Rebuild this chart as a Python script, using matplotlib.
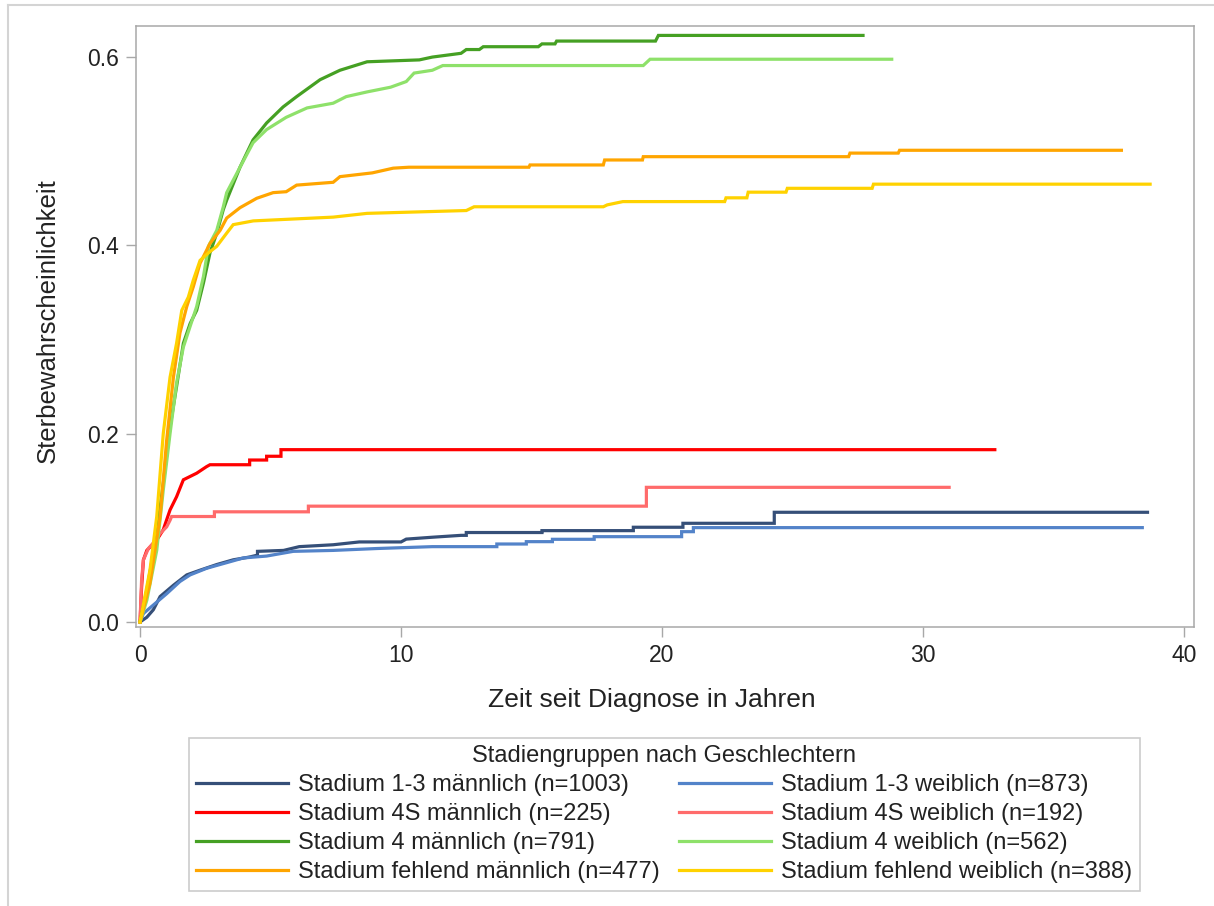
import matplotlib
matplotlib.use("Agg")
import matplotlib.pyplot as plt
from matplotlib.lines import Line2D

plt.rcParams['font.family'] = ['Liberation Sans', 'DejaVu Sans']

# Kumulative Sterbewahrscheinlichkeit, Eckpunkte der Kurven (Jahre, Wahrscheinlichkeit)
x_13m = [0, 0.26, 0.51, 0.77, 1.28, 1.79, 2.3, 2.94, 3.57, 4.2, 4.5, 4.5, 5.5, 6.1, 7.4, 8.4, 10.0, 10.2,
         11.2, 12.3, 12.5, 12.5, 15.4, 15.4, 18.9, 18.9, 20.8, 20.8, 24.3, 24.3, 38.6]
y_13m = [0, 0.005, 0.013, 0.027, 0.039, 0.050, 0.055, 0.061, 0.066, 0.069, 0.071, 0.075, 0.076, 0.080, 0.082,
         0.085, 0.085, 0.088, 0.090, 0.092, 0.092, 0.095, 0.095, 0.097, 0.097, 0.1006, 0.1006, 0.1048, 0.1048,
         0.1165, 0.1165]

x_13w = [0, 0.13, 0.51, 1.02, 1.53, 1.92, 2.55, 3.32, 3.96, 4.85, 5.87, 7.4, 9.07, 11.2, 12.4, 13.67, 13.67,
         14.8, 14.8, 15.8, 15.8, 17.4, 17.4, 20.75, 20.75, 21.2, 21.2, 38.4]
y_13w = [0, 0.009, 0.018, 0.030, 0.043, 0.050, 0.057, 0.063, 0.068, 0.070, 0.075, 0.076, 0.078, 0.080, 0.080,
         0.080, 0.0828, 0.0828, 0.0853, 0.0853, 0.0878, 0.0878, 0.0906, 0.0906, 0.0959, 0.0959, 0.1002, 0.1002]

x_4sm = [0, 0.06, 0.13, 0.26, 0.64, 0.89, 1.15, 1.4, 1.66, 2.17, 2.55, 2.68, 4.2, 4.2, 4.85, 4.85, 5.4, 5.4, 32.75]
y_4sm = [0, 0.037, 0.066, 0.076, 0.087, 0.098, 0.119, 0.133, 0.151, 0.158, 0.165, 0.167, 0.167, 0.172, 0.172,
         0.176, 0.176, 0.183, 0.183]

x_4sw = [0, 0.06, 0.13, 0.32, 0.51, 0.77, 1.02, 1.15, 1.21, 2.85, 2.85, 6.45, 6.45, 19.4, 19.4, 31.0]
y_4sw = [0, 0.045, 0.066, 0.078, 0.084, 0.094, 0.101, 0.108, 0.112, 0.112, 0.117, 0.117, 0.123, 0.123, 0.143, 0.143]

x_4m = [0, 0.26, 0.64, 0.89, 1.15, 1.4, 1.66, 1.92, 2.17, 2.43, 2.68, 2.94, 3.19, 3.32, 3.83, 4.33, 4.85, 5.48,
        6.0, 6.9, 7.66, 8.7, 10.7, 11.2, 12.3, 12.5, 13.0, 13.15, 15.26, 15.4, 15.9, 15.96, 19.75, 19.86, 27.7]
y_4m = [0, 0.034, 0.094, 0.147, 0.207, 0.25, 0.296, 0.317, 0.331, 0.36, 0.392, 0.413, 0.438, 0.448, 0.483,
        0.512, 0.530, 0.547, 0.558, 0.576, 0.586, 0.595, 0.597, 0.600, 0.604, 0.608, 0.608, 0.611, 0.611, 0.614,
        0.614, 0.617, 0.617, 0.623, 0.623]

x_4w = [0, 0.26, 0.64, 0.89, 1.15, 1.4, 1.66, 1.92, 2.17, 2.43, 2.62, 2.94, 3.19, 3.32, 3.83, 4.33, 4.85, 5.6,
        6.4, 7.4, 7.9, 8.7, 9.6, 10.2, 10.5, 11.2, 11.6, 19.28, 19.54, 28.8]
y_4w = [0, 0.023, 0.076, 0.14, 0.2, 0.254, 0.292, 0.314, 0.335, 0.367, 0.399, 0.416, 0.441, 0.456, 0.483,
        0.509, 0.523, 0.536, 0.546, 0.551, 0.558, 0.563, 0.568, 0.574, 0.583, 0.586, 0.591, 0.591, 0.5977, 0.5977]

x_fm = [0, 0.38, 0.77, 1.02, 1.28, 1.53, 1.79, 2.04, 2.3, 2.68, 3.07, 3.32, 3.83, 4.47, 5.1, 5.6, 6.0, 7.4,
        7.66, 8.9, 9.7, 10.3, 14.9, 14.94, 17.75, 17.8, 19.25, 19.28, 27.15, 27.2, 29.05, 29.1, 37.6]
y_fm = [0, 0.041, 0.112, 0.193, 0.26, 0.307, 0.335, 0.356, 0.381, 0.402, 0.416, 0.429, 0.44, 0.45, 0.456,
        0.457, 0.464, 0.467, 0.473, 0.477, 0.482, 0.483, 0.483, 0.4854, 0.4854, 0.4907, 0.4907, 0.4942, 0.4942,
        0.498, 0.498, 0.501, 0.501]

x_fw = [0, 0.38, 0.64, 0.89, 1.15, 1.4, 1.6, 1.85, 2.04, 2.3, 2.62, 2.94, 3.32, 3.57, 4.34, 7.4, 8.7, 12.5,
        12.8, 17.75, 17.9, 18.5, 22.4, 22.45, 23.25, 23.3, 24.75, 24.8, 28.05, 28.1, 38.7]
y_fw = [0, 0.055, 0.112, 0.2, 0.26, 0.296, 0.331, 0.345, 0.363, 0.384, 0.392, 0.399, 0.413, 0.422, 0.426,
        0.43, 0.434, 0.437, 0.441, 0.441, 0.443, 0.4465, 0.4465, 0.4505, 0.4505, 0.4565, 0.4565, 0.4606, 0.4606,
        0.465, 0.465]

labels = ["Stadium 1-3 männlich (n=1003)", "Stadium 1-3 weiblich (n=873)",
          "Stadium 4S männlich (n=225)", "Stadium 4S weiblich (n=192)",
          "Stadium 4 männlich (n=791)", "Stadium 4 weiblich (n=562)",
          "Stadium fehlend männlich (n=477)", "Stadium fehlend weiblich (n=388)"]
colors = ['#354f78', '#5383c9', '#ff0000', '#ff6b6b', '#45a023', '#8ee16a', '#ffa500', '#ffd200']
xs = [x_13m, x_13w, x_4sm, x_4sw, x_4m, x_4w, x_fm, x_fw]
ys = [y_13m, y_13w, y_4sm, y_4sw, y_4m, y_4w, y_fm, y_fw]

fig = plt.figure(figsize=(12.14, 9.06), dpi=100)
ax = fig.add_axes([0.1118, 0.308, 0.8717, 0.6633])

lines = []
for x, y, c, lab in zip(xs, ys, colors, labels):
    l, = ax.plot(x, y, color=c, lw=2.3, label=lab, solid_joinstyle='miter')
    lines.append(l)

ax.set_xlim(-0.165, 40.38)
ax.set_ylim(-0.0053, 0.633)
ax.set_xticks([0, 10, 20, 30, 40])
ax.set_yticks([0.0, 0.2, 0.4, 0.6])
ax.set_yticklabels(['0.0', '0.2', '0.4', '0.6'])
ax.tick_params(direction='out', length=7, width=1, color='#a8a8a8', labelsize=16.5, labelcolor='#222222', pad=5)
for s in ax.spines.values():
    s.set_color('#a8a8a8')
    s.set_linewidth(1.1)

ax.set_xlabel("Zeit seit Diagnose in Jahren", fontsize=19, color='#222222')
ax.set_ylabel("Sterbewahrscheinlichkeit", fontsize=18.5, color='#222222')
ax.xaxis.set_label_coords(0.488, -0.1015)
ax.yaxis.set_label_coords(-0.072, 0.51)

# Legende: erste Spalte männlich, zweite Spalte weiblich
order = [0, 2, 4, 6, 1, 3, 5, 7]
leg = fig.legend([lines[i] for i in order], [labels[i] for i in order], ncol=2,
                 title="Stadiengruppen nach Geschlechtern", loc='upper center',
                 bbox_to_anchor=(0.547, 0.1854), borderaxespad=0, fontsize=17, title_fontsize=17,
                 handlelength=3.9, handletextpad=0.42, columnspacing=0.85, labelspacing=0.3,
                 borderpad=0.3, fancybox=False, framealpha=1)
leg.get_frame().set_edgecolor('#cccccc')
leg.get_frame().set_linewidth(1.2)
for t in leg.get_texts():
    t.set_color('#222222')
leg.get_title().set_color('#222222')

# heller Rand oben und links
fig.add_artist(Line2D([8 / 1214, 1], [1 - 5 / 906, 1 - 5 / 906], color='#d4d4d4', lw=1.5))
fig.add_artist(Line2D([8 / 1214, 8 / 1214], [0, 1 - 5 / 906], color='#d4d4d4', lw=1.5))

fig.savefig("out.png", dpi=100)
